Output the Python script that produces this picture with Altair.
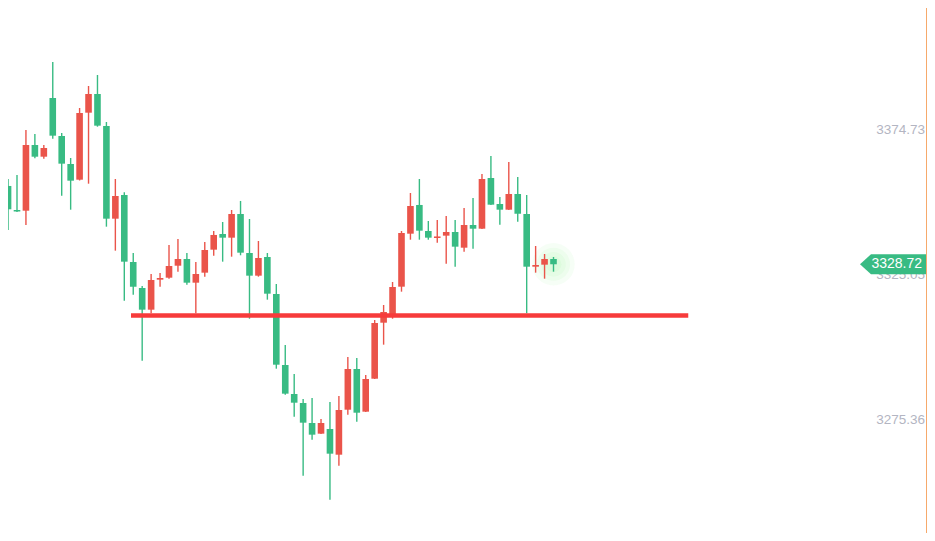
import altair as alt
import pandas as pd

# OHLC values (price units)
opens = [3355.55, 3347.32, 3347.08, 3369.59, 3365.58, 3385.70, 3372.68, 3363.08, 3357.70, 3380.66,
         3387.07, 3376.10, 3344.34, 3352.46, 3329.50, 3320.59, 3313.16, 3323.44, 3324.12, 3328.23,
         3330.53, 3322.41, 3325.84, 3333.72, 3339.10, 3337.83, 3345.95, 3332.59, 3324.81, 3331.22,
         3318.54, 3294.21, 3284.27, 3281.19, 3274.34, 3270.67, 3272.28, 3263.47, 3278.89, 3292.84,
         3278.21, 3289.51, 3308.70, 3310.76, 3321.04, 3339.20, 3349.04, 3340.13, 3337.73, 3338.52,
         3339.78, 3334.40, 3342.18, 3340.91, 3358.29, 3349.38, 3347.42, 3352.80, 3345.95, 3327.89,
         3328.58, 3330.53]
highs = [3357.94, 3359.31, 3374.73, 3373.36, 3369.59, 3398.03, 3373.71, 3365.14, 3382.27, 3389.81,
         3393.58, 3377.47, 3357.94, 3353.39, 3332.59, 3321.28, 3325.39, 3325.73, 3335.33, 3337.38,
         3332.59, 3329.50, 3336.36, 3340.13, 3343.21, 3347.32, 3350.41, 3344.24, 3336.70, 3332.59,
         3321.97, 3301.06, 3291.13, 3282.56, 3282.90, 3275.71, 3281.53, 3283.59, 3296.95, 3296.61,
         3290.78, 3309.63, 3314.77, 3322.65, 3340.13, 3353.15, 3357.94, 3343.55, 3343.89, 3345.27,
         3343.89, 3348.01, 3351.43, 3359.66, 3365.82, 3351.78, 3363.77, 3358.63, 3352.46, 3334.99,
         3332.24, 3331.22]
lows = [3340.47, 3346.64, 3342.18, 3365.04, 3364.90, 3371.75, 3352.22, 3347.42, 3357.43, 3356.33,
        3375.86, 3341.60, 3333.38, 3316.24, 3318.30, 3295.68, 3311.93, 3321.04, 3323.78, 3326.18,
        3321.73, 3311.93, 3324.47, 3331.66, 3329.61, 3331.32, 3331.80, 3310.07, 3324.47, 3316.59,
        3292.94, 3284.03, 3276.49, 3256.28, 3268.61, 3270.57, 3248.05, 3259.70, 3277.18, 3274.78,
        3278.10, 3289.41, 3301.17, 3310.07, 3319.33, 3337.14, 3337.14, 3337.14, 3336.12, 3328.92,
        3327.89, 3333.03, 3334.06, 3340.81, 3349.04, 3342.29, 3347.32, 3343.31, 3311.93, 3325.84,
        3323.78, 3326.18]
closes = [3347.56, 3346.82, 3369.59, 3365.58, 3368.57, 3372.78, 3363.19, 3357.36, 3380.56, 3387.07,
          3376.21, 3344.34, 3352.12, 3329.61, 3321.04, 3313.16, 3323.34, 3324.02, 3328.13, 3330.53,
          3322.41, 3325.39, 3333.62, 3338.76, 3337.83, 3345.95, 3332.69, 3324.81, 3330.87, 3318.64,
          3294.31, 3284.38, 3281.29, 3274.44, 3270.33, 3274.34, 3263.82, 3278.79, 3292.84, 3277.86,
          3289.41, 3308.60, 3312.37, 3320.94, 3339.44, 3348.69, 3340.23, 3337.83, 3338.25, 3339.78,
          3334.75, 3342.18, 3340.91, 3357.94, 3349.14, 3347.42, 3352.80, 3346.05, 3327.89, 3328.47,
          3330.53, 3328.72]

axis_labels = ["3374.73", "3325.05", "3275.36"]
axis_values = [3374.73, 3325.05, 3275.36]
last_price = 3328.72
support_price = 3311.2
support_from = 13.75   # candle index where the support line starts
support_to = 76.07     # candle index where it ends

RED = "#ea544a"
GREEN = "#38bb83"

idx = list(range(len(opens)))
df = pd.DataFrame({"i": idx, "open": opens, "high": highs, "low": lows, "close": closes})
df["dir"] = ["up" if c > o else "down" for o, c in zip(opens, closes)]

xs = alt.Scale(domain=[0.553, 102.21], nice=False, zero=False)
ys = alt.Scale(domain=[3236.64, 3416.53], nice=False, zero=False)
col = alt.Color("dir:N", scale=alt.Scale(domain=["up", "down"], range=[RED, GREEN]), legend=None)

base = alt.Chart(df)

glow_df = pd.DataFrame({"i": [idx[-1]] * 4, "p": [last_price] * 4, "s": [1800, 1100, 600, 250]})
glow = alt.Chart(glow_df).mark_circle(color="#6be86b", opacity=0.06).encode(
    x=alt.X("i:Q", scale=xs, axis=None),
    y=alt.Y("p:Q", scale=ys, axis=None),
    size=alt.Size("s:Q", scale=None, legend=None),
)

wicks = base.mark_rule(strokeWidth=1.4).encode(
    x=alt.X("i:Q", scale=xs, axis=None),
    y=alt.Y("low:Q", scale=ys, axis=None),
    y2="high:Q",
    color=col,
)
bodies = base.mark_bar(size=6.6).encode(
    x=alt.X("i:Q", scale=xs, axis=None),
    y=alt.Y("open:Q", scale=ys, axis=None),
    y2="close:Q",
    color=col,
)

sup_df = pd.DataFrame({"a": [support_from], "b": [support_to], "p": [support_price]})
support = alt.Chart(sup_df).mark_rule(strokeWidth=4.5, color="#f73b3b").encode(
    x=alt.X("a:Q", scale=xs, axis=None),
    x2="b:Q",
    y=alt.Y("p:Q", scale=ys, axis=None),
)

lab_df = pd.DataFrame({"t": axis_labels, "p": axis_values})
labels = alt.Chart(lab_df).mark_text(
    align="right", baseline="middle", fontSize=13.5, font="Liberation Sans", color="#b3b5c2"
).encode(
    x=alt.value(917),
    y=alt.Y("p:Q", scale=ys, axis=None),
    text="t:N",
)

tag_df = pd.DataFrame({"p": [last_price], "t": [f"{last_price:.2f}"]})
tag_shape = "M -1 0 L -0.699 -0.274 L 1 -0.274 L 1 0.274 L -0.699 0.274 Z"
tag = alt.Chart(tag_df).mark_point(
    shape=tag_shape, size=5329, filled=True, opacity=1, color=GREEN, strokeWidth=0
).encode(
    x=alt.value(888.5),
    y=alt.Y("p:Q", scale=ys, axis=None),
)
tag_text = alt.Chart(tag_df).mark_text(
    align="center", baseline="middle", fontSize=14, font="Liberation Sans", color="white"
).encode(
    x=alt.value(888.7),
    y=alt.Y("p:Q", scale=ys, axis=None),
    text="t:N",
)

edge = alt.Chart(pd.DataFrame({"k": [0]})).mark_rule(color="#f6a96b", strokeWidth=1).encode(
    x=alt.value(918.5), y=alt.value(0), y2=alt.value(525)
)

chart = alt.layer(glow, wicks, bodies, support, labels, tag, tag_text, edge).properties(
    width=919, height=525, autosize=alt.AutoSizeParams(type="none"), padding=0,
    background="white",
).configure_view(strokeWidth=0)

chart.save("out.html", embed_options={"renderer": "svg", "actions": False})
